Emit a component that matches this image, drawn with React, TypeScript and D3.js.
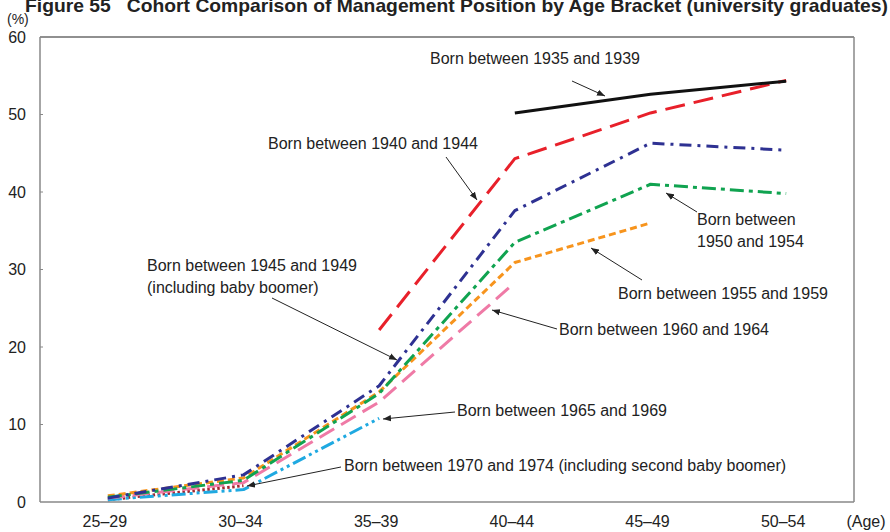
import React from "react";
import * as d3 from "d3";

const categories = ["25–29", "30–34", "35–39", "40–44", "45–49", "50–54"];
const yTicks = [0, 10, 20, 30, 40, 50, 60];

const born1935 = [null, null, null, 50.2, 52.6, 54.3];
const born1940 = [null, null, 22.2, 44.3, 50.2, 54.4];
const born1945 = [0.5, 3.5, 15.0, 37.6, 46.3, 45.4];
const born1950 = [0.6, 2.8, 14.0, 33.5, 41.0, 39.8];
const born1955 = [0.8, 3.1, 14.2, 30.9, 36.0, null];
const born1960 = [0.5, 2.5, 12.9, 28.3, null, null];
const born1965 = [0.3, 1.6, 10.8, null, null, null];
const born1970 = [0.3, 2.1, null, null, null, null];

const series = [
  { name: "1970", values: born1970, color: "#a3282f", dash: "2.5,2.5" },
  { name: "1965", values: born1965, color: "#1fa9e1", dash: "14,4,3,4,3,4" },
  { name: "1960", values: born1960, color: "#ef7aa6", dash: "17,8" },
  { name: "1955", values: born1955, color: "#f7941d", dash: "7,4" },
  { name: "1950", values: born1950, color: "#10a350", dash: "14,5,4,5" },
  { name: "1945", values: born1945, color: "#2e3192", dash: "12,6,3,6" },
  { name: "1940", values: born1940, color: "#e8202a", dash: "20,9" },
  { name: "1935", values: born1935, color: "#111111", dash: null },
];

const W = 890, H = 532;
const L = 40, R = 854, T = 37, B = 502;

export default function App() {
  const x = d3.scaleBand().domain(categories).range([L, R]);
  const xc = (c: string) => (x(c) as number) + x.bandwidth() / 2;
  const y = d3.scaleLinear().domain([0, 60]).range([B, T]);
  const line = d3
    .line<number | null>()
    .defined((d) => d !== null)
    .x((_, i) => xc(categories[i]))
    .y((d) => y(d as number));

  const font = "'Liberation Sans', Arial, Helvetica, sans-serif";
  const arrows = [
    [572, 81, 605, 96],
    [446, 157, 477, 200],
    [272, 298, 397, 360],
    [697, 212, 666, 193],
    [642, 280, 591, 248],
    [557, 329, 492, 310],
    [455, 412, 383, 419],
    [341, 467, 247, 486],
  ];
  const labels: [string, number, number][] = [
    ["Born between 1935 and 1939", 430, 64],
    ["Born between 1940 and 1944", 268, 149],
    ["Born between 1945 and 1949", 147, 271],
    ["(including baby boomer)", 147, 293],
    ["Born between", 697, 225],
    ["1950 and 1954", 697, 247],
    ["Born between 1955 and 1959", 618, 299],
    ["Born between 1960 and 1964", 559, 335],
    ["Born between 1965 and 1969", 457, 416],
    ["Born between 1970 and 1974 (including second baby boomer)", 344, 471],
  ];

  return (
    <svg width={W} height={H} style={{ position: "absolute", left: 0, top: 0, background: "#fff" }} fontFamily={font}>
      <defs>
        <marker id="ah" viewBox="0 0 10 10" refX="10" refY="5" markerWidth="8" markerHeight="8" markerUnits="userSpaceOnUse" orient="auto">
          <path d="M0,1 L10,5 L0,9 Z" fill="#222" />
        </marker>
      </defs>
      <text x={25} y={12} fontSize={19} fontWeight="bold" fill="#222" textLength={863} lengthAdjust="spacingAndGlyphs">
        Figure 55{"\u00a0\u00a0\u00a0"}Cohort Comparison of Management Position by Age Bracket (university graduates)
      </text>
      <text x={7} y={24} fontSize={14} fill="#222">(%)</text>
      {/* frame */}
      <line x1={L} x2={R} y1={T} y2={T} stroke="#222" strokeWidth={1.2} />
      <line x1={R} x2={R} y1={T} y2={B} stroke="#888" strokeWidth={1.5} />
      <line x1={L} x2={L} y1={T} y2={B} stroke="#888" strokeWidth={1.5} />
      <line x1={L} x2={R} y1={B} y2={B} stroke="#888" strokeWidth={1.5} />
      {yTicks.map((t) => (
        <g key={t}>
          {t > 0 && t < 60 && <line x1={L} x2={L + 3} y1={y(t)} y2={y(t)} stroke="#888" strokeWidth={1} />}
          <text x={26} y={y(t)} dy="0.35em" textAnchor="end" fontSize={16} fill="#222">{t}</text>
        </g>
      ))}
      {categories.map((c) => (
        <text key={c} x={xc(c) - 3} y={521} dy="0.35em" textAnchor="middle" fontSize={16} fill="#222">{c}</text>
      ))}
      <text x={866} y={521} dy="0.35em" textAnchor="middle" fontSize={16} fill="#222">(Age)</text>
      {series.map((s) => (
        <path key={s.name} d={line(s.values as (number | null)[]) || ""} fill="none" stroke={s.color} strokeWidth={3}
          strokeDasharray={s.dash || undefined} strokeLinejoin="round" />
      ))}
      {arrows.map((a, i) => (
        <line key={i} x1={a[0]} y1={a[1]} x2={a[2]} y2={a[3]} stroke="#222" strokeWidth={1} markerEnd="url(#ah)" />
      ))}
      {labels.map(([t, lx, ly], i) => (
        <text key={i} x={lx} y={ly} fontSize={16} fill="#222">{t}</text>
      ))}
    </svg>
  );
}
